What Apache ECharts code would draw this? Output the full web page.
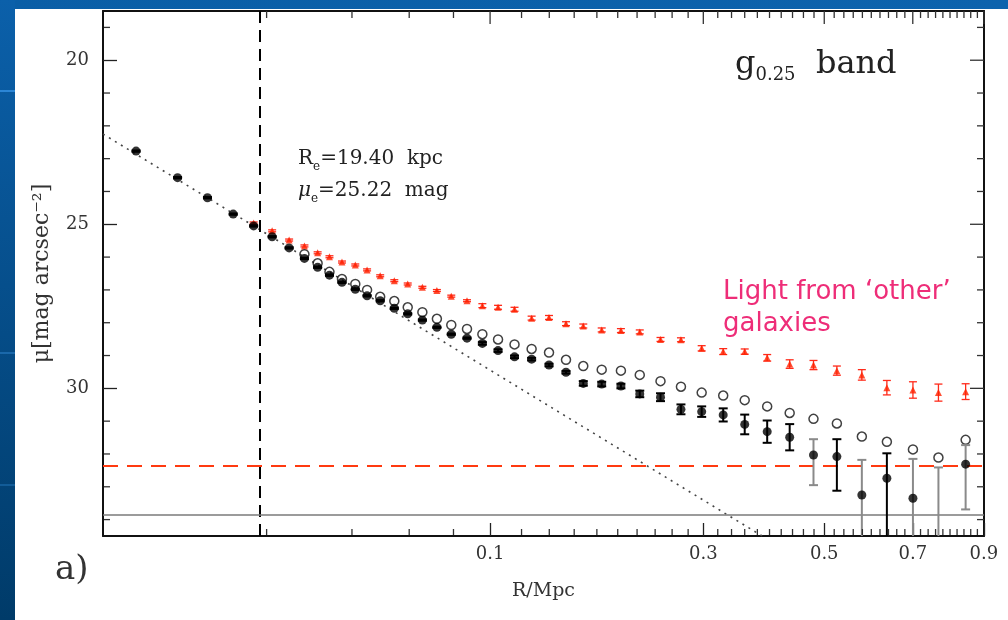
<!DOCTYPE html>
<html><head><meta charset="utf-8">
<script src="https://cdn.jsdelivr.net/npm/echarts@6/dist/echarts.min.js"></script>
<style>html,body{margin:0;padding:0;background:#fff}#c{width:1008px;height:620px}</style>
</head><body><div id="c"></div><script>
// ---- data (R in Mpc, surface brightness in mag arcsec^-2) ----
const R_MPC = [0.0051,0.0083,0.0114,0.0147,0.0178,0.0210,0.0243,0.0276,0.0307,0.0337,0.0371,0.0410,0.0447,0.0491,0.0542,0.0594,0.0655,0.0720,0.0789,0.0870,0.0955,0.1048,0.1153,0.1270,0.1398,0.1532,0.1678,0.1845,0.2032,0.2229,0.2462,0.2709,0.2978,0.3278,0.3600,0.3961,0.4349,0.4790,0.5255,0.5788,0.6362,0.7004,0.7678,0.8449];
const MU_BLACK = [22.77,23.58,24.19,24.69,25.05,25.38,25.72,26.04,26.31,26.55,26.77,26.98,27.18,27.33,27.56,27.73,27.92,28.14,28.35,28.47,28.63,28.85,29.04,29.11,29.29,29.51,29.85,29.87,29.93,30.17,30.27,30.64,30.71,30.81,31.10,31.32,31.49,32.03,32.08,33.25,32.74,33.35,35.20,32.31];
const BLACK_ERR_UP = [0.02,0.02,0.02,0.02,0.02,0.02,0.02,0.02,0.02,0.02,0.02,0.02,0.02,0.02,0.02,0.02,0.02,0.02,0.02,0.02,0.04,0.04,0.04,0.04,0.04,0.04,0.07,0.07,0.07,0.10,0.12,0.15,0.16,0.20,0.30,0.34,0.40,0.48,0.53,1.07,0.76,1.20,2.79,0.58];
const BLACK_ERR_DOWN = [0.02,0.02,0.02,0.02,0.02,0.02,0.02,0.02,0.02,0.02,0.02,0.02,0.02,0.02,0.02,0.02,0.02,0.02,0.02,0.02,0.04,0.04,0.04,0.04,0.04,0.04,0.07,0.07,0.07,0.10,0.12,0.15,0.16,0.20,0.30,0.34,0.40,0.92,1.04,3.00,3.00,3.00,3.00,1.38];
const BLACK_BAR_GRAY = [0,0,0,0,0,0,0,0,0,0,0,0,0,0,0,0,0,0,0,0,0,0,0,0,0,0,0,0,0,0,0,0,0,0,0,0,0,1,0,1,0,1,1,1];
const MU_OPEN = [null,null,null,null,null,null,null,25.91,26.19,26.45,26.67,26.82,27.00,27.21,27.34,27.53,27.68,27.88,28.07,28.19,28.35,28.51,28.66,28.80,28.91,29.13,29.32,29.43,29.46,29.59,29.78,29.95,30.13,30.22,30.36,30.55,30.75,30.93,31.07,31.47,31.63,31.86,32.11,31.57];
const MU_RED = [null,null,null,null,24.96,25.20,25.48,25.66,25.87,25.99,26.15,26.24,26.39,26.57,26.72,26.82,26.92,27.02,27.19,27.33,27.48,27.53,27.59,27.86,27.84,28.03,28.10,28.22,28.24,28.28,28.51,28.52,28.78,28.88,28.88,29.07,29.26,29.29,29.46,29.59,29.98,30.05,30.13,30.10];
const RED_ERR = [null,null,null,null,0.03,0.03,0.03,0.03,0.03,0.03,0.03,0.03,0.03,0.03,0.03,0.03,0.03,0.03,0.03,0.03,0.06,0.06,0.06,0.06,0.06,0.06,0.06,0.06,0.06,0.06,0.06,0.06,0.08,0.09,0.08,0.10,0.13,0.14,0.14,0.16,0.22,0.25,0.26,0.24];
// de Vaucouleurs fit line end points (R in Mpc, mu)
const FIT_R = [0.0033, 0.3878];
const FIT_MU = [22.25, 34.50];
const RE_MPC = 0.0194;          // effective radius
const RED_DASH_MU = 32.37;      // red dashed level
const GRAY_LINE_MU = 33.84;     // gray solid level
// axis ticks
const X_LABELS = [0.1, 0.3, 0.5, 0.7, 0.9];
const X_MINOR_STEP = 0.02, X_MINOR_MAX = 0.9;
const Y_LABELS = [20, 25, 30];
const Y_MINOR = [19,21,22,23,24,26,27,28,29,31,32,33,34];
const X_RANGE = [0.0033, 0.9002];
const Y_RANGE = [18.5, 34.5];

// ---- layout ----
const GRID = { left: 103, top: 11, width: 881, height: 525 };

// ---- helpers ----
const q = v => Math.pow(v, 0.25);   // R^(1/4) axis
const xMin = q(X_RANGE[0]), xMax = q(X_RANGE[1]);
const X_MID = (xMin + xMax) / 2, Y_MID = (Y_RANGE[0] + Y_RANGE[1]) / 2;
const SERIF = 'DejaVu Serif';
const xTickR = [];
for (let k = 1; k * X_MINOR_STEP <= X_MINOR_MAX + 1e-9; k++) xTickR.push(Math.round(k * X_MINOR_STEP * 100) / 100);
// top / right ticks drawn by custom series: [x, y, side(1 top,3 right), length px]
const tickItems = [];
xTickR.forEach(R => tickItems.push([q(R), Y_MID, 1, X_LABELS.indexOf(R) >= 0 ? 13 : 7]));
Y_MINOR.forEach(v => tickItems.push([X_MID, v, 3, 7]));
Y_LABELS.forEach(v => tickItems.push([X_MID, v, 3, 14]));

function errRender(colorFn, width, hw) {
  return function (params, api) {
    const x = api.value(0), lo = api.value(1), hi = api.value(2);
    const cs = params.coordSys;
    const p1 = api.coord([x, lo]), p2 = api.coord([x, hi]);
    const yT = cs.y, yB = cs.y + cs.height;
    const c = v => Math.max(yT, Math.min(yB, v));
    const col = colorFn(api.value(3));
    const st = { stroke: col, lineWidth: width };
    const ch = [{ type: 'line', shape: { x1: p1[0], y1: c(p1[1]), x2: p1[0], y2: c(p2[1]) }, style: st }];
    if (p1[1] >= yT && p1[1] <= yB) ch.push({ type: 'line', shape: { x1: p1[0] - hw, y1: p1[1], x2: p1[0] + hw, y2: p1[1] }, style: st });
    if (p2[1] >= yT && p2[1] <= yB) ch.push({ type: 'line', shape: { x1: p2[0] - hw, y1: p2[1], x2: p2[0] + hw, y2: p2[1] }, style: st });
    return { type: 'group', children: ch };
  };
}
function tickRender(params, api) {
  const side = api.value(2), L = api.value(3);
  const cs = params.coordSys;
  const p = api.coord([api.value(0), api.value(1)]);
  const s = side === 1
    ? { x1: p[0], y1: cs.y, x2: p[0], y2: cs.y + L }
    : { x1: cs.x + cs.width, y1: p[1], x2: cs.x + cs.width - L, y2: p[1] };
  return { type: 'line', shape: s, style: { stroke: '#333', lineWidth: 1.3 } };
}

const blackPts = R_MPC.map((r, i) => [q(r), MU_BLACK[i]]);
const blackErr = R_MPC.map((r, i) => [q(r), MU_BLACK[i] - BLACK_ERR_UP[i], MU_BLACK[i] + BLACK_ERR_DOWN[i], BLACK_BAR_GRAY[i]]);
const openPts = R_MPC.map((r, i) => MU_OPEN[i] == null ? null : [q(r), MU_OPEN[i]]).filter(Boolean);
const redPts = R_MPC.map((r, i) => MU_RED[i] == null ? null : [q(r), MU_RED[i]]).filter(Boolean);
const redErr = R_MPC.map((r, i) => MU_RED[i] == null ? null : [q(r), MU_RED[i] - RED_ERR[i], MU_RED[i] + RED_ERR[i], 0]).filter(Boolean);
const fitLine = FIT_R.map((r, i) => [q(r), FIT_MU[i]]);

const labelStyle = { fontFamily: SERIF, fontSize: 18, color: '#333' };
function xAx(pos) {
  const main = pos === 'bottom';
  return {
    type: 'value', position: pos, min: xMin, max: xMax,
    axisLine: { show: true, onZero: false, lineStyle: { color: '#111', width: 2 } },
    axisTick: main ? { show: true, inside: true, length: 13, customValues: X_LABELS.map(q), lineStyle: { color: '#222', width: 1.3 } } : { show: false },
    axisLabel: main ? Object.assign({ show: true, customValues: X_LABELS.map(q), margin: 9, formatter: v => (Math.round(Math.pow(v, 4) * 10) / 10).toFixed(1) }, labelStyle) : { show: false },
    splitLine: { show: false }, minorTick: { show: false },
    name: main ? 'R/Mpc' : '', nameLocation: 'middle', nameGap: 46,
    nameTextStyle: { fontFamily: SERIF, fontSize: 19, color: '#333' }
  };
}
function yAx(pos) {
  const main = pos === 'left';
  return {
    type: 'value', position: pos, inverse: true, min: Y_RANGE[0], max: Y_RANGE[1],
    axisLine: { show: true, onZero: false, lineStyle: { color: '#111', width: 2 } },
    axisTick: main ? { show: true, inside: true, length: 14, customValues: Y_LABELS, lineStyle: { color: '#222', width: 1.3 } } : { show: false },
    axisLabel: main ? Object.assign({ show: true, customValues: Y_LABELS, margin: 14 }, labelStyle) : { show: false },
    splitLine: { show: false }, minorTick: { show: false },
    name: main ? 'μ[mag arcsec⁻²]' : '', nameLocation: 'middle', nameGap: 50,
    nameTextStyle: { fontFamily: SERIF, fontSize: 22, color: '#333' }
  };
}

const chart = echarts.init(document.getElementById('c'), null, { renderer: 'canvas' });
chart.setOption({
  animation: false,
  backgroundColor: '#ffffff',
  grid: Object.assign({ containLabel: false, outerBoundsMode: 'none' }, GRID),
  xAxis: [xAx('bottom'), xAx('top')],
  yAxis: [yAx('left'), yAx('right')],
  series: [
    {
      type: 'line', name: 'fit', data: fitLine, symbol: 'none', silent: true, z: 1,
      lineStyle: { color: '#444', width: 1.6, type: [2, 5] },
      markLine: {
        silent: true, symbol: ['none', 'none'], label: { show: false }, animation: false,
        data: [
          { xAxis: q(RE_MPC), lineStyle: { color: '#000', width: 2, type: [12, 7] } },
          { yAxis: RED_DASH_MU, lineStyle: { color: '#ff3a10', width: 1.8, type: [15, 9] } },
          { yAxis: GRAY_LINE_MU, lineStyle: { color: '#7a7a7a', width: 1.5, type: 'solid' } }
        ]
      }
    },
    {
      type: 'custom', name: 'other err', data: redErr, encode: { x: 0, y: [1, 2] }, z: 2, silent: true,
      renderItem: errRender(() => '#ff2a1a', 1.3, 4)
    },
    {
      type: 'scatter', name: 'other galaxies', data: redPts, symbol: 'triangle', symbolSize: 7, z: 3,
      itemStyle: { color: '#ff2200' }
    },
    {
      type: 'scatter', name: 'total', data: openPts, symbol: 'circle', symbolSize: 9, z: 4,
      itemStyle: { color: 'rgba(255,255,255,0)', borderColor: '#111', borderWidth: 1.5 }
    },
    {
      type: 'custom', name: 'err', data: blackErr, encode: { x: 0, y: [1, 2] }, z: 5, silent: true,
      renderItem: errRender(f => f ? '#8a8a8a' : '#000', 2, 4.5)
    },
    {
      type: 'scatter', name: 'profile', data: blackPts, symbol: 'circle', symbolSize: 9, z: 6,
      itemStyle: { color: '#000' }
    },
    {
      type: 'custom', name: 'ticks', data: tickItems, encode: { x: 0, y: 1 }, silent: true, z: 20,
      renderItem: tickRender
    }
  ],
  graphic: [
    // slide frame
    { id: 'frameTop', type: 'rect', z: 100, shape: { x: 0, y: 0, width: 1008, height: 9 },
      style: { fill: new echarts.graphic.LinearGradient(0, 0, 1, 0, [{ offset: 0, color: '#0a5ea6' }, { offset: 1, color: '#0d63ad' }]) } },
    { id: 'frameLeft', type: 'rect', z: 100, shape: { x: 0, y: 0, width: 15, height: 620 },
      style: { fill: new echarts.graphic.LinearGradient(0, 0, 0, 1, [{ offset: 0, color: '#0b60aa' }, { offset: 1, color: '#003b69' }]) } },
    { id: 'fl1', type: 'rect', z: 101, shape: { x: 0, y: 90, width: 15, height: 2 }, style: { fill: '#2b86d6' } },
    { id: 'fl2', type: 'rect', z: 101, shape: { x: 0, y: 352, width: 15, height: 2 }, style: { fill: '#1a68aa' } },
    { id: 'fl3', type: 'rect', z: 101, shape: { x: 0, y: 484, width: 15, height: 2 }, style: { fill: '#125c98' } },
    // annotations
    { id: 'band', type: 'text', x: 735, y: 46, z: 50, style: {
        text: '{m|g}{s|0.25}{m|  band}',
        rich: { m: { fontFamily: SERIF, fontSize: 32, fill: '#222', lineHeight: 38, verticalAlign: 'middle' },
                s: { fontFamily: SERIF, fontSize: 18, fill: '#222', lineHeight: 14, verticalAlign: 'bottom' } } } },
    { id: 're', type: 'text', x: 298, y: 145, z: 50, style: {
        text: '{m|R}{s|e}{m|=19.40  kpc}',
        rich: { m: { fontFamily: SERIF, fontSize: 20, fill: '#222', lineHeight: 28, verticalAlign: 'middle' },
                s: { fontFamily: SERIF, fontSize: 12, fill: '#222', lineHeight: 10, verticalAlign: 'bottom' } } } },
    { id: 'mue', type: 'text', x: 298, y: 177, z: 50, style: {
        text: '{i|μ}{s|e}{m|=25.22  mag}',
        rich: { m: { fontFamily: SERIF, fontSize: 20, fill: '#222', lineHeight: 28, verticalAlign: 'middle' },
                i: { fontFamily: SERIF, fontStyle: 'italic', fontSize: 20, fill: '#222', lineHeight: 28, verticalAlign: 'middle' },
                s: { fontFamily: SERIF, fontSize: 12, fill: '#222', lineHeight: 10, verticalAlign: 'bottom' } } } },
    { id: 'other', type: 'text', x: 723, y: 276, z: 50, style: {
        text: 'Light from ‘other’\ngalaxies', fontFamily: 'DejaVu Sans', fontSize: 26, lineHeight: 32, fill: '#ee2d78' } },
    { id: 'panel', type: 'text', x: 55, y: 570, z: 50, style: {
        text: 'a)', fontFamily: SERIF, fontSize: 34, fill: '#333', verticalAlign: 'middle' } }
  ]
});

// bottom / left minor ticks: positions taken from the chart's own scales
const extraTicks = [];
const tickLine = (id, x1, y1, x2, y2) => ({ id: id, type: 'line', z: 200,
  shape: { x1: x1, y1: y1, x2: x2, y2: y2 }, style: { stroke: '#333', lineWidth: 1.3 } });
xTickR.forEach(R => {
  if (X_LABELS.indexOf(R) >= 0) return;
  const p = chart.convertToPixel({ gridIndex: 0 }, [q(R), Y_RANGE[1]]);
  if (p) extraTicks.push(tickLine('bt' + R, p[0], p[1] - 1, p[0], p[1] - 7));
});
Y_MINOR.forEach(v => {
  const p = chart.convertToPixel({ gridIndex: 0 }, [xMin, v]);
  if (p) extraTicks.push(tickLine('lt' + v, p[0] + 1, p[1], p[0] + 7, p[1]));
});
chart.setOption({ graphic: extraTicks });
</script></body></html>
